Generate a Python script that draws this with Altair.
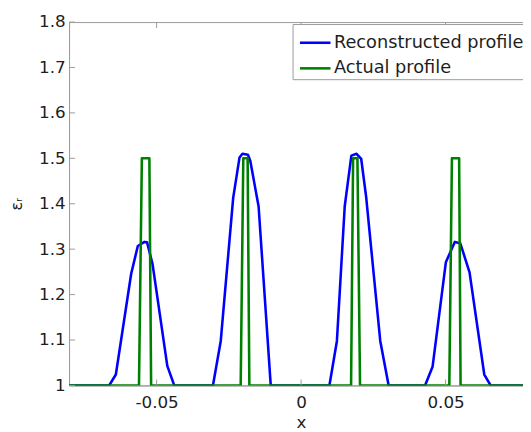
import altair as alt
import pandas as pd

# ---------------- data ----------------
series_names = ["Reconstructed profile", "Actual profile"]
series_colors = ["#0000ff", "#008000"]

blue_x = [-0.0803, -0.0664, -0.0641, -0.0588, -0.0565, -0.0542, -0.0533, -0.0514, -0.0463, -0.0439,
          -0.0305, -0.0278, -0.0235, -0.0213, -0.0203, -0.0184, -0.0176, -0.0147, -0.0105,
          0.0098, 0.0124, 0.0151, 0.0174, 0.0192, 0.0208, 0.0225, 0.0274, 0.0303,
          0.0429, 0.0455, 0.0501, 0.0532, 0.0551, 0.0583, 0.0634, 0.0656, 0.0803]
blue_y = [1.0, 1.0, 1.024, 1.246, 1.307, 1.316, 1.315, 1.267, 1.043, 1.0,
          1.0, 1.098, 1.413, 1.502, 1.510, 1.508, 1.495, 1.394, 1.0,
          1.0, 1.098, 1.394, 1.506, 1.510, 1.499, 1.416, 1.098, 1.0,
          1.0, 1.041, 1.271, 1.316, 1.313, 1.249, 1.024, 1.0, 1.0]

green_x = [-0.0803, -0.0561, -0.0551, -0.0525, -0.0519,
           -0.0209, -0.0200, -0.0185, -0.0179,
           0.0173, 0.0180, 0.0195, 0.0204,
           0.0513, 0.0522, 0.0547, 0.0552, 0.0803]
green_y = [1.0, 1.0, 1.5, 1.5, 1.0,
           1.0, 1.5, 1.5, 1.0,
           1.0, 1.5, 1.5, 1.0,
           1.0, 1.5, 1.5, 1.0, 1.0]

x_ticks = [-0.05, 0.0, 0.05]
x_tick_labels = ["-0.05", "0", "0.05"]
y_ticks = [1.0, 1.1, 1.2, 1.3, 1.4, 1.5, 1.6, 1.7, 1.8]
y_tick_labels = ["1", "1.1", "1.2", "1.3", "1.4", "1.5", "1.6", "1.7", "1.8"]

x_domain = [-0.0803, 0.0768]
y_domain = [1.0, 1.8]

# ---------------- build ----------------
W, H = 461, 369
FONT = "DejaVu Sans"
AXIS_GRAY = "#9a9a9a"
TEXT = "#1e1e1e"


def label_expr(vals, labs):
    expr = "''"
    for v, l in reversed(list(zip(vals, labs))):
        expr = f"abs(datum.value - ({v})) < 0.000001 ? '{l}' : ({expr})"
    return expr


blue_df = pd.DataFrame({"x": blue_x, "y": blue_y, "i": range(len(blue_x)), "s": series_names[0]})
green_df = pd.DataFrame({"x": green_x, "y": green_y, "i": range(len(green_x)), "s": series_names[1]})
xt_df = pd.DataFrame({"x": x_ticks})
yt_df = pd.DataFrame({"y": y_ticks})

xs = alt.Scale(domain=x_domain, nice=False, zero=False)
ys = alt.Scale(domain=y_domain, nice=False, zero=False)

legend = alt.Legend(
    title=None, orient="none", legendX=227, legendY=2,
    symbolType="stroke", symbolSize=961, symbolStrokeWidth=2.6, symbolOffset=4,
    labelFont=FONT, labelFontSize=18, labelColor=TEXT, labelOffset=2, labelLimit=0,
    padding=2, rowPadding=-4, fillColor="white", strokeColor=AXIS_GRAY,
    cornerRadius=0,
)
color = alt.Color("s:N", scale=alt.Scale(domain=series_names, range=series_colors), legend=legend)

x_axis = alt.Axis(
    values=x_ticks, labelExpr=label_expr(x_ticks, x_tick_labels), ticks=False, grid=False,
    domainColor=AXIS_GRAY, labelFont=FONT, labelFontSize=17, labelColor=TEXT, labelPadding=9,
    title="x", titleFont=FONT, titleFontSize=17, titleFontWeight="normal", titleColor=TEXT,
    titleBaseline="alphabetic", titleAlign="center", titleX=235.5, titleY=43,
)
y_axis = alt.Axis(
    values=y_ticks, labelExpr=label_expr(y_ticks, y_tick_labels), ticks=False, grid=False,
    domainColor=AXIS_GRAY, labelFont=FONT, labelFontSize=17, labelColor=TEXT, labelPadding=4,
    title="εᵣ", titleFont=FONT, titleFontSize=16, titleFontWeight="normal", titleColor=TEXT,
    titleAngle=270, titleAlign="center", titleBaseline="middle", titleX=-53, titleY=H / 2,
)

X = alt.X("x:Q", scale=xs, axis=x_axis)
Y = alt.Y("y:Q", scale=ys, axis=y_axis)

blue = alt.Chart(blue_df).mark_line(strokeWidth=2.6, clip=True, strokeJoin="round").encode(
    x=X, y=Y, order="i:Q", color=color,
)
green = alt.Chart(green_df).mark_line(strokeWidth=2.6, clip=True, strokeJoin="round").encode(
    x=X, y=Y, order="i:Q", color=color,
)

tick_len = 6
xt_bottom = alt.Chart(xt_df).mark_rule(color=AXIS_GRAY, strokeWidth=1).encode(
    x=X, y=alt.value(H), y2=alt.value(H - tick_len))
xt_top = alt.Chart(xt_df).mark_rule(color=AXIS_GRAY, strokeWidth=1).encode(
    x=X, y=alt.value(0), y2=alt.value(tick_len))
yt_left = alt.Chart(yt_df).mark_rule(color=AXIS_GRAY, strokeWidth=1).encode(
    y=Y, x=alt.value(0), x2=alt.value(tick_len))

chart = alt.layer(blue, green, xt_bottom, xt_top, yt_left).properties(
    width=W, height=H,
    autosize=alt.AutoSizeParams(type="none"),
    padding={"left": 62, "top": 11, "right": 0, "bottom": 44},
    background="white",
).configure_view(stroke=AXIS_GRAY, strokeWidth=1)

chart.save("out.html", embed_options={"renderer": "svg", "actions": False})
